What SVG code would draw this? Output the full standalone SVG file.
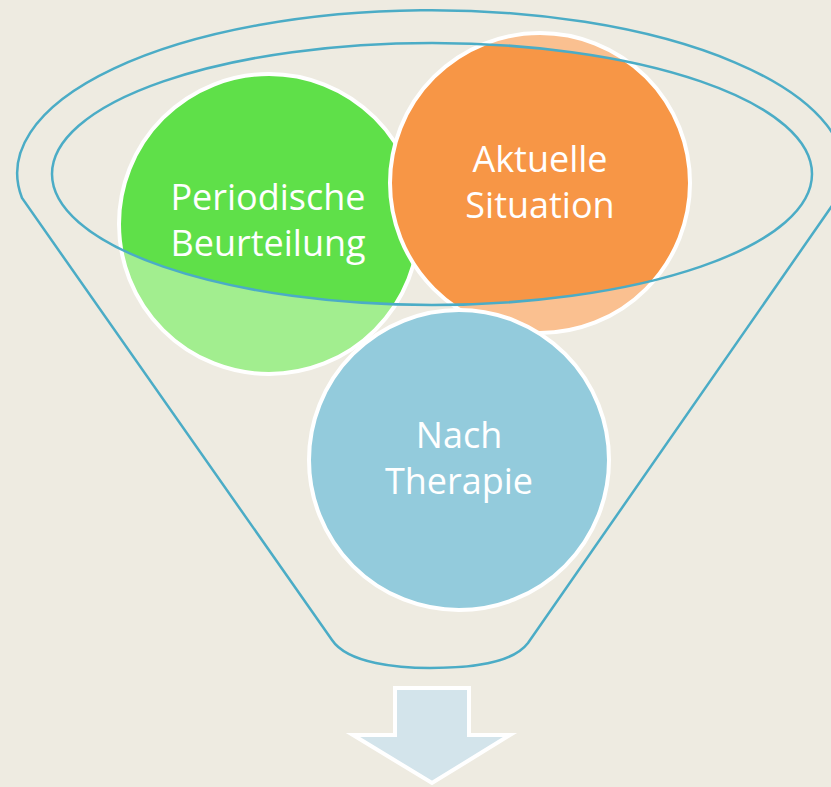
<svg xmlns="http://www.w3.org/2000/svg" width="831" height="787" viewBox="0 0 831 787">
<style>
.lbl{font-family:"Open Sans","Liberation Sans",sans-serif;font-size:36px;fill:#ffffff;text-anchor:middle}
.ring{fill:none;stroke:#ffffff;stroke-width:4}
.funnel{fill:none;stroke:#4BACC6;stroke-width:2.5}
</style>
<defs>
<clipPath id="lip"><ellipse cx="432" cy="174" rx="380" ry="131"/></clipPath>
</defs>
<rect width="831" height="787" fill="#EEEBE1"/>
<g id="green">
<circle cx="269" cy="224" r="150" fill="#A2EE8F"/>
<circle cx="269" cy="224" r="150" fill="#5FE049" clip-path="url(#lip)"/>
<circle class="ring" cx="269" cy="224" r="150"/>
<text class="lbl" x="268" y="210">Periodische</text>
<text class="lbl" x="268" y="256">Beurteilung</text>
</g>
<g id="orange">
<circle cx="540" cy="183" r="150" fill="#FAC090"/>
<circle cx="540" cy="183" r="150" fill="#F79646" clip-path="url(#lip)"/>
<circle class="ring" cx="540" cy="183" r="150"/>
<text class="lbl" x="540" y="172">Aktuelle</text>
<text class="lbl" x="540" y="218">Situation</text>
</g>
<g id="blue">
<circle cx="459" cy="460" r="150" fill="#93CBDC"/>
<circle class="ring" cx="459" cy="460" r="150"/>
<text class="lbl" x="459" y="448">Nach</text>
<text class="lbl" x="459" y="494">Therapie</text>
</g>
<g id="funnel">
<ellipse class="funnel" cx="432" cy="174" rx="380" ry="131"/>
<path class="funnel" d="M22,198 A414,163 0 1 1 843,190 L528,643 C512,664 470,668 430,668 C400,668 348,664 332,640 Z"/>
</g>
<g id="connectors">
<path d="M395,688 H469 V735 H510 L432,783 L353,735 H395 Z" fill="#D3E4EB" stroke="#ffffff" stroke-width="4" stroke-linejoin="miter"/>
</g>
</svg>
